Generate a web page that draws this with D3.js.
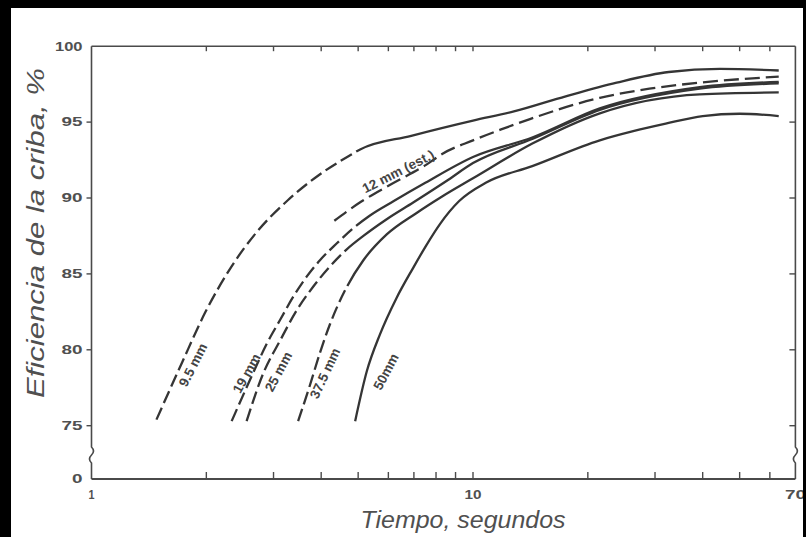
<!DOCTYPE html>
<html><head><meta charset="utf-8">
<script src="https://cdn.jsdelivr.net/npm/d3@7"></script>
<style>body{margin:0;background:#fff}svg{display:block;background:#fff}</style>
</head><body><svg id="c" width="806" height="537"></svg>
<script>
// ---- data ----
const sizes = ["9.5 mm","12 mm (est.)","19 mm","25 mm","37.5 mm","50mm"];
const time_9_5 = [1.48,1.73,1.99,2.33,2.71,3.27,3.94,4.75,5.06,6.89,10,12.8,17.5,23.8,32.6,44.4,63.3];
const eff_9_5  = [75.4,79.2,82.5,85.5,87.75,89.85,91.5,92.8,93.2,94.1,95.1,95.7,96.7,97.6,98.3,98.5,98.4];
const time_12 = [4.33,5.05,6.1,7.55,8.3,10,11.8,14.1,21.5,29,39.3,63.3];
const eff_12  = [88.5,89.7,90.9,92.2,92.9,93.8,94.5,95.2,96.6,97.2,97.6,98.0];
const time_19 = [2.33,2.65,2.88,3.12,3.38,3.66,3.97,4.39,4.85,5.37,6.2,7.5,10,14.35,21.5,39.3,63.3];
const eff_19  = [75.3,78.45,80.4,81.96,83.5,84.8,85.9,87.0,88.0,88.85,89.8,91.0,92.7,94.0,95.9,97.3,97.65];
const time_25 = [2.55,2.82,3.12,3.45,3.81,4.22,4.66,5.16,5.94,6.97,8.5,10,14.35,21.5,39.3,63.3];
const eff_25  = [75.3,78.45,80.6,82.6,84.15,85.5,86.6,87.5,88.6,89.7,91.1,92.3,93.9,95.8,97.2,97.55];
const time_37_5 = [3.48,3.73,3.97,4.22,4.66,5.16,5.94,7.1,8.3,10,14.35,21.5,39.3,63.3];
const eff_37_5  = [75.3,77.6,79.8,81.7,84.1,85.9,87.6,89.0,90.1,91.3,93.6,95.58,96.83,96.96];
const time_50 = [4.91,5.27,5.7,6.3,6.97,7.55,8.2,9.2,10.8,14.3,21.5,26.3,32,40,50,63.3];
const eff_50  = [75.3,78.6,81.0,83.4,85.4,86.9,88.3,89.8,91.0,92.1,93.8,94.4,94.9,95.4,95.55,95.4];
const dashedUntil = [5.06, 100, 5.0, 5.0, 4.9, 0];
// curve labels: anchor time, anchor efficiency, angle
const labelTime = [1.844, 6.37, 2.55, 3.09, 4.09, 5.91];
const labelEff  = [79.0, 91.75, 78.45, 78.56, 78.45, 78.56];
const labelAngle = [-63, -27, -61, -62, -65, -62];
const xTickLabels = [1, 10, 70];
const xTicks = [2,3,4,5,6,7,8,9,10,20,30,40,50,60];
const yTicks = [0,75,80,85,90,95,100];

const seriesT = [time_9_5, time_12, time_19, time_25, time_37_5, time_50];
const seriesE = [eff_9_5, eff_12, eff_19, eff_25, eff_37_5, eff_50];

// ---- drawing ----
const svg = d3.select("#c");
const L = 91.5, R = 795.4, T = 46.2, B = 479;
const x = d3.scaleLog().domain([1, 70]).range([L, R]);
const y = d3.scaleLinear().domain([0, 75, 100]).range([B, 425.7, T]);
const ink = "#353535", axisInk = "#4a4a4a", textInk = "#505050";
const font = "'Liberation Sans', Arial, sans-serif";

const g = svg.append("g");
// axes frame with breaks
const yb = y(0) - 24;
function sideAxis(xx){
  return `M${xx},${T}V${yb-8}Q${xx+4},${yb-4} ${xx},${yb}Q${xx-4},${yb+4} ${xx},${yb+8}V${B}`;
}
g.append("path").attr("d", sideAxis(L)).attr("fill","none").attr("stroke",axisInk).attr("stroke-width",1.6);
g.append("path").attr("d", sideAxis(R)).attr("fill","none").attr("stroke",axisInk).attr("stroke-width",1.6);
g.append("line").attr("x1",L).attr("x2",R).attr("y1",B).attr("y2",B).attr("stroke",axisInk).attr("stroke-width",1.8);
g.append("line").attr("x1",L).attr("x2",R).attr("y1",T).attr("y2",T).attr("stroke",axisInk).attr("stroke-width",1.6);

// x ticks (inward, bottom & top)
g.selectAll(null).data(xTicks).join("line")
  .attr("x1",d=>x(d)).attr("x2",d=>x(d)).attr("y1",B).attr("y2",B-7)
  .attr("stroke",axisInk).attr("stroke-width",1.4);
g.selectAll(null).data(xTicks).join("line")
  .attr("x1",d=>x(d)).attr("x2",d=>x(d)).attr("y1",T).attr("y2",T+5)
  .attr("stroke",axisInk).attr("stroke-width",1.4);
// y ticks: left outward, right inward
const yt = yTicks.filter(d=>d>0 && d<100);
g.selectAll(null).data(yt).join("line")
  .attr("x1",L-5).attr("x2",L).attr("y1",d=>y(d)).attr("y2",d=>y(d))
  .attr("stroke",axisInk).attr("stroke-width",1.4);
g.selectAll(null).data(yt).join("line")
  .attr("x1",R-6).attr("x2",R).attr("y1",d=>y(d)).attr("y2",d=>y(d))
  .attr("stroke",axisInk).attr("stroke-width",1.4);

// tick labels: wide, short bold digits
const digitW = d => String(d).length*10.5 - (String(d).startsWith("1")?4:0);
g.selectAll(null).data(yTicks).join("text")
  .attr("x", L-9).attr("y", d=>y(d)).attr("dy","0.36em")
  .attr("text-anchor","end").attr("font-family",font).attr("font-weight","bold")
  .attr("font-size",12).attr("fill",textInk)
  .attr("textLength",digitW).attr("lengthAdjust","spacingAndGlyphs").text(d=>d);
g.selectAll(null).data(xTickLabels).join("text")
  .attr("x", d=>x(d)).attr("y", B+20)
  .attr("text-anchor","middle").attr("font-family",font).attr("font-weight","bold")
  .attr("font-size",12).attr("fill",textInk)
  .attr("textLength",d=>d===1?6:digitW(d)).attr("lengthAdjust","spacingAndGlyphs").text(d=>d);

// axis titles
svg.append("text").attr("x",463).attr("y",528).attr("text-anchor","middle")
  .attr("font-family",font).attr("font-style","italic").attr("font-size",23)
  .attr("fill",textInk).attr("textLength",205).attr("lengthAdjust","spacingAndGlyphs")
  .text("Tiempo, segundos");
svg.append("text").attr("transform","translate(44,233) rotate(-90)").attr("text-anchor","middle")
  .attr("font-family",font).attr("font-style","italic").attr("font-size",24)
  .attr("fill",textInk).attr("textLength",330).attr("lengthAdjust","spacingAndGlyphs")
  .text("Eficiencia de la criba, %");

// curves
const line = d3.line().x(d=>x(d[0])).y(d=>y(d[1])).curve(d3.curveMonotoneX);
sizes.forEach((name,i)=>{
  const pts = seriesT[i].map((t,j)=>[t, seriesE[i][j]]);
  const p = g.append("path").datum(pts).attr("d", line)
    .attr("fill","none").attr("stroke",ink).attr("stroke-width",2.3)
    .attr("stroke-linecap","butt");
  const node = p.node();
  const total = node.getTotalLength();
  const du = dashedUntil[i];
  const last = seriesT[i][seriesT[i].length-1];
  const dash = i===1 ? [15,6] : [13,5];
  if (du >= last) {
    p.attr("stroke-dasharray", dash.join(","));
  } else if (du > seriesT[i][0]) {
    const xs = x(du);
    let lo = 0, hi = total;
    for (let k=0;k<40;k++){ const m=(lo+hi)/2; if (node.getPointAtLength(m).x < xs) lo=m; else hi=m; }
    const arr = []; let s = 0;
    while (s + dash[0] + dash[1] <= lo) { arr.push(dash[0], dash[1]); s += dash[0]+dash[1]; }
    arr.push(total, 0);
    p.attr("stroke-dasharray", arr.join(","));
  }
});

// curve labels
sizes.forEach((name,i)=>{
  g.append("text")
    .attr("transform",`translate(${x(labelTime[i])},${y(labelEff[i])}) rotate(${labelAngle[i]})`)
    .attr("text-anchor","middle").attr("dy","0.35em")
    .attr("font-family",font).attr("font-weight","bold").attr("font-size",13.5)
    .attr("fill","#444").text(name);
});

// black scan frame (top, left, right edges)
svg.append("rect").attr("x",0).attr("y",0).attr("width",806).attr("height",8).attr("fill","#000");
svg.append("rect").attr("x",0).attr("y",0).attr("width",11).attr("height",537).attr("fill","#000");
svg.append("rect").attr("x",803).attr("y",0).attr("width",3).attr("height",537).attr("fill","#000");
</script></body></html>
